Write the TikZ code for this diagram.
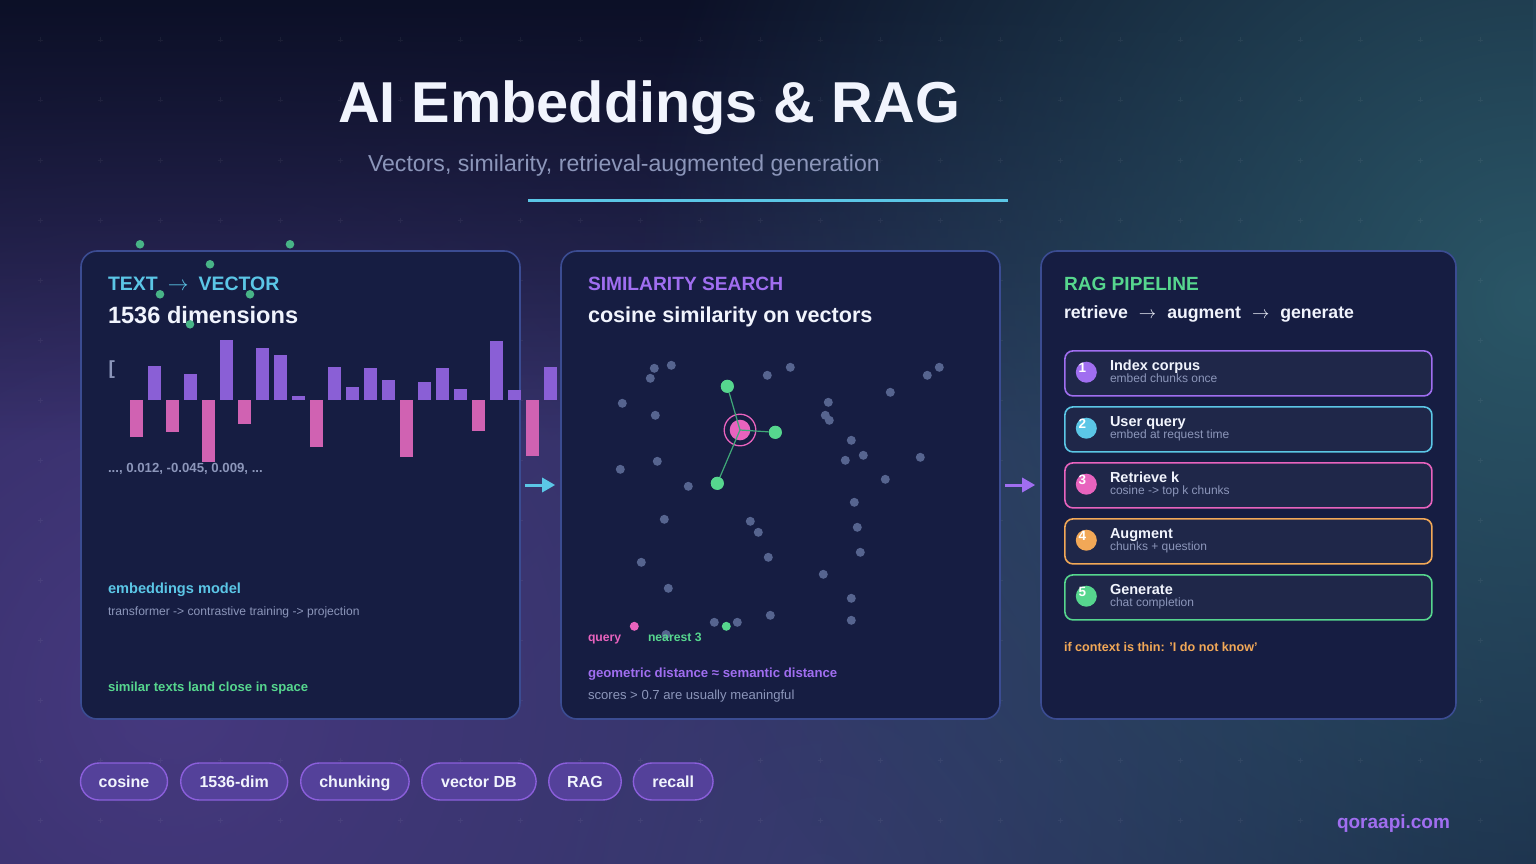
\documentclass[tikz,border=0pt]{standalone}
\usepackage{fontspec}
\setmainfont{Liberation Sans}
\usetikzlibrary{fadings,arrows.meta}
\newcommand\fsz[1]{\fontsize{#1}{#1}\selectfont}
\definecolor{bgbase}{HTML}{151B3C}
\definecolor{bgtop}{HTML}{0C1027}
\definecolor{glowpurple}{HTML}{46397F}
\definecolor{glowteal}{HTML}{2A5666}
\definecolor{glowmid}{HTML}{263C5C}
\definecolor{panelfill}{HTML}{161D42}
\definecolor{panelline}{HTML}{3B4C92}
\definecolor{cyanc}{HTML}{5BC6E6}
\definecolor{purplec}{HTML}{A06EF0}
\definecolor{pinkc}{HTML}{E863BE}
\definecolor{greenc}{HTML}{56D68E}
\definecolor{greenl}{HTML}{3FA878}
\definecolor{greendot}{HTML}{48B487}
\definecolor{orangec}{HTML}{F2A857}
\definecolor{grayt}{HTML}{8C96BA}
\definecolor{whitet}{HTML}{F1F4FD}
\definecolor{dotc}{HTML}{56648F}
\definecolor{barp}{HTML}{8A5FD6}
\definecolor{barpink}{HTML}{D062B2}
\definecolor{stepfill}{HTML}{1F2749}
\definecolor{tagfill}{HTML}{54419A}
\definecolor{tagline}{HTML}{8B5FDB}
\tikzfading[name=radfade, inner color=transparent!0, outer color=transparent!100]
\tikzfading[name=topfade, top color=transparent!0, bottom color=transparent!100]
\tikzset{
  txt/.style={anchor=base west, inner sep=0pt, outer sep=0pt},
  panel/.style={draw=panelline, fill=panelfill, line width=1.6pt, rounded corners=16pt, inner sep=0pt, minimum height=468pt},
  stepbox/.style={fill=stepfill, line width=1.6pt, rounded corners=8pt, minimum width=367pt, minimum height=45pt, inner sep=0pt},
  stepdot/.style={circle, minimum size=21pt, inner sep=0pt},
  numtxt/.style={text=white, font=\fsz{13.5}\bfseries, inner sep=0pt},
  steptitle/.style={txt, text=whitet, font=\fsz{14.5}\bfseries},
  stepsub/.style={txt, text=grayt, font=\fsz{12}},
  tag/.style={fill=tagfill, draw=tagline, line width=1.4pt, rounded corners=18.5pt, minimum height=37pt, inner sep=0pt, text height=13pt, text depth=1.5pt, text=whitet, font=\fsz{16}\bfseries},
  conn/.style={-{Triangle[length=13pt,width=14pt]}, line width=3pt},
  nn/.style={circle, fill=greenc, minimum size=13pt, inner sep=0pt},
  gridmark/.style={white, opacity=0.05, line width=0.8pt},
}
\begin{document}
\begin{tikzpicture}[x=1pt,y=-1pt]
\useasboundingbox (0,0) rectangle (1536,864);
% background
\fill[bgbase] (0,0) rectangle (1536,864);
\fill[glowmid, path fading=radfade] (820,880) circle (900);
\fill[glowpurple, path fading=radfade] (170,700) circle (1300);
\fill[bgtop, path fading=topfade] (0,0) rectangle (1536,440);
\fill[glowteal, path fading=radfade] (1530,300) circle (900);
% grid crosses
\foreach \gx in {40,100,...,1480}
  \foreach \gy in {40,100,...,820}
    \draw[gridmark] (\gx-2.5,\gy) -- (\gx+2.5,\gy) (\gx,\gy-2.5) -- (\gx,\gy+2.5);
% title
\node[txt, text=whitet, font=\fsz{57.7}\bfseries] (title) at (338,123) {AI Embeddings \& RAG};
\node[txt, text=grayt, font=\fsz{23.1}] (subtitle) at (368,171) {Vectors, similarity, retrieval-augmented generation};
\draw[cyanc, line width=2.6pt] (528,200.3) -- (1008,200.3);
% panels
\node[panel, minimum width=439pt] (p1) at (300.5,485) {};
\node[panel, minimum width=439pt] (p2) at (780.5,485) {};
\node[panel, minimum width=415pt] (p3) at (1248.5,485) {};
\draw[conn, cyanc, shorten <=4pt, shorten >=5pt] (p1.east) -- (p2.west);
\draw[conn, purplec, shorten <=4pt, shorten >=5pt] (p2.east) -- (p3.west);
% ---------- left panel
\node[txt, text=cyanc, font=\fsz{19.5}\bfseries] (l1) at (108,290) {TEXT\hspace{10pt}$\rightarrow$\hspace{10pt}VECTOR};
\node[txt, text=whitet, font=\fsz{23.6}\bfseries] (l2) at (108,323.3) {1536 dimensions};
\node[txt, text=grayt, font=\fsz{19}\bfseries] (br) at (108.5,374.2) {[};
\foreach \bx/\ba/\bb/\bc in {130/400/436.7/barpink, 148/366/400/barp, 166/400/431.7/barpink, 184/374/400/barp,
  202/400/461.7/barpink, 220/340/400/barp, 238/400/423.7/barpink, 256/348/400/barp, 274/355/400/barp,
  292/396/400/barp, 310/400/446.7/barpink, 328/367/400/barp, 346/387/400/barp, 364/368/400/barp,
  382/380/400/barp, 400/400/456.7/barpink, 418/382/400/barp, 436/368/400/barp, 454/389/400/barp,
  472/400/430.7/barpink, 490/341/400/barp, 508/390/400/barp, 526/400/455.7/barpink, 544/367/400/barp}
  \fill[\bc] (\bx,\ba) rectangle (\bx+13,\bb);
\node[txt, text=grayt, font=\fsz{13.2}\bfseries] (vals) at (108,472.3) {..., 0.012, -0.045, 0.009, ...};
\node[txt, text=cyanc, font=\fsz{14.6}\bfseries] (em) at (108,593.3) {embeddings model};
\node[txt, text=grayt, font=\fsz{12.1}] (emsub) at (108,615.7) {transformer -> contrastive training -> projection};
\node[txt, text=greenc, font=\fsz{13.1}\bfseries] (sim) at (108,691.7) {similar texts land close in space};
\foreach \gx/\gy in {140/244.3, 290/244.3, 210/264.3, 160/294.3, 250/294.3, 190/324.3}
  \fill[greendot] (\gx,\gy) circle (4.3);
% ---------- middle panel
\node[txt, text=purplec, font=\fsz{19.2}\bfseries] (m1) at (588,290) {SIMILARITY SEARCH};
\node[txt, text=whitet, font=\fsz{21.6}\bfseries] (m2) at (588,322) {cosine similarity on vectors};
\foreach \px/\py in {654.3/368.3, 671.3/365.3, 650.3/378.3, 622.3/403.3, 655.3/415.3, 767.3/375.3,
  790.3/367.3, 828.3/402.3, 825.3/415.3, 829.3/420.3, 890.3/392.3, 927.3/375.3, 939.3/367.3,
  851.3/440.3, 863.3/455.3, 845.3/460.3, 920.3/457.3, 885.3/479.3, 657.3/461.3, 620.3/469.3,
  688.3/486.3, 664.3/519.3, 750.3/521.3, 758.3/532.3, 854.3/502.3, 857.3/527.3, 860.3/552.3,
  768.3/557.3, 641.3/562.3, 823.3/574.3, 668.3/588.3, 851.3/598.3, 770.3/615.3, 714.3/622.3,
  737.3/622.3, 851.3/620.3, 666/634.5}
  \fill[dotc] (\px,\py) circle (4.5);
\node[circle, fill=pinkc, minimum size=20.6pt, inner sep=0pt] (q) at (740,430) {};
\draw[pinkc, line width=1.3pt] (q.center) circle (15.8);
\node[nn] (n1) at (727.3,386.3) {};
\node[nn] (n2) at (775.3,432.3) {};
\node[nn] (n3) at (717.3,483.3) {};
\foreach \n in {n1,n2,n3} \draw[greenl, line width=1.2pt] (q.center) -- (\n);
\node[nn] (n1b) at (727.3,386.3) {};
\node[nn] (n2b) at (775.3,432.3) {};
\node[nn] (n3b) at (717.3,483.3) {};
\fill[pinkc] (634.3,626.3) circle (4.5);
\fill[greenc] (726.3,626.3) circle (4.5);
\node[txt, text=pinkc, font=\fsz{12.2}\bfseries] (lq) at (588,641.5) {query};
\node[txt, text=greenc, font=\fsz{12.2}\bfseries] (ln) at (648,641.5) {nearest 3};
\node[txt, text=purplec, font=\fsz{13.2}\bfseries] (geo) at (588,677.3) {geometric distance ≈ semantic distance};
\node[txt, text=grayt, font=\fsz{13.1}] (sc) at (588,699.3) {scores > 0.7 are usually meaningful};
% ---------- right panel
\node[txt, text=greenc, font=\fsz{19.1}\bfseries] (r1) at (1064,290) {RAG PIPELINE};
\node[txt, text=whitet, font=\fsz{17.7}\bfseries] (r2) at (1064,318.3) {retrieve\hspace{11pt}$\rightarrow$\hspace{11pt}augment\hspace{11pt}$\rightarrow$\hspace{11pt}generate};
\foreach \i/\c/\t/\s in {1/purplec/Index corpus/embed chunks once,
  2/cyanc/User query/embed at request time,
  3/pinkc/Retrieve k/cosine -> top k chunks,
  4/orangec/Augment/chunks + question,
  5/greenc/Generate/chat completion} {
  \pgfmathsetmacro\yy{373.4+56*(\i-1)}
  \node[stepbox, draw=\c] (s\i) at (1248.4,\yy) {};
  \node[stepdot, fill=\c] (d\i) at (1086.3,\yy-1.2) {};
  \node[numtxt] (k\i) at ([xshift=-4pt,yshift=4pt]d\i.center) {\i};
  \node[steptitle] (st\i) at (1110,\yy-3.4) {\t};
  \node[stepsub] (ss\i) at (1110,\yy+9) {\s};
}
\node[txt, text=orangec, font=\fsz{12.6}\bfseries] (thin) at (1064,651.7) {if context is thin: 'I do not know'};
% ---------- tags
\node[tag, minimum width=87pt] (g1) at (124,781.5) {cosine};
\node[tag, minimum width=107pt] (g2) at (234.2,781.5) {1536-dim};
\node[tag, minimum width=108.4pt] (g3) at (354.9,781.5) {chunking};
\node[tag, minimum width=114.4pt] (g4) at (478.9,781.5) {vector DB};
\node[tag, minimum width=72.5pt] (g5) at (585,781.5) {RAG};
\node[tag, minimum width=79.7pt] (g6) at (673.2,781.5) {recall};
\node[txt, text=purplec, font=\fsz{19}\bfseries] (web) at (1337,828.3) {qoraapi.com};
\end{tikzpicture}
\end{document}
